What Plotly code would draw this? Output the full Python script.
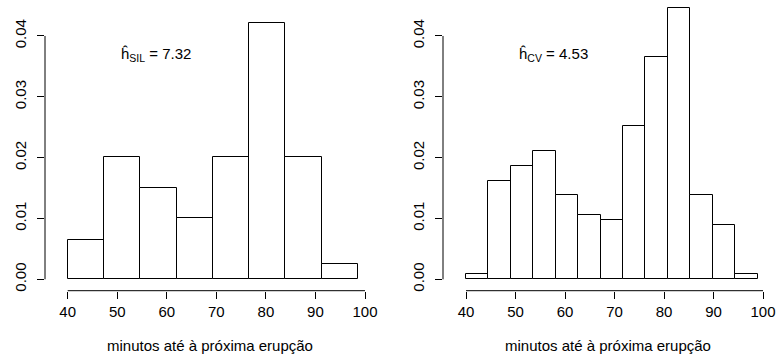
import plotly.graph_objects as go

# Faithful geyser waiting times, density histograms for two bin widths
bins_start = 40.0

h_sil = 7.32
dens_sil = [0.00653, 0.02009, 0.01507, 0.01004, 0.02009, 0.04219, 0.02009, 0.00251]

h_cv = 4.53
dens_cv = [0.00081, 0.01623, 0.01867, 0.02110, 0.01380, 0.01055, 0.00974,
           0.02516, 0.03652, 0.04464, 0.01380, 0.00893, 0.00081]

x_ticks = [40, 50, 60, 70, 80, 90, 100]
y_ticks = [0.00, 0.01, 0.02, 0.03, 0.04]
x_title = "minutos até à próxima erupção"

W, H = 776, 356
FAMILY = "Liberation Sans, Arial, Helvetica, sans-serif"
TICK_FONT = dict(family=FAMILY, size=15, color="black")
TEXT_FONT = dict(family=FAMILY, size=15, color="black")

fig = go.Figure()

# pixel layout of the two panels: (y-axis line px, px of x=40, px per unit)
panels = [
    dict(axline=45.0, x40=67.7, ppu=4.955, right=375.0),
    dict(axline=443.0, x40=466.0, ppu=4.95, right=773.0),
]
y0_px, yaxis_px, ppu_y = 279.3, 290.7, 6083.0

series = [(h_sil, dens_sil, "SIL"), (h_cv, dens_cv, "CV")]

for i, ((bw, dens, tag), p) in enumerate(zip(series, panels)):
    xa = "x" if i == 0 else "x2"
    ya = "y" if i == 0 else "y2"
    centers = [bins_start + bw * (k + 0.5) for k in range(len(dens))]
    fig.add_trace(go.Bar(
        x=centers, y=dens, width=[bw] * len(dens),
        marker=dict(color="white", line=dict(color="black", width=1)),
        xaxis=xa, yaxis=ya, showlegend=False, hoverinfo="skip",
    ))

    xmin = 40 - (p["x40"] - p["axline"]) / p["ppu"]
    xmax = 40 + (p["right"] - p["x40"]) / p["ppu"]
    ymin = -(yaxis_px - y0_px) / ppu_y
    ymax = y0_px / ppu_y

    xkey = "xaxis" if i == 0 else "xaxis2"
    ykey = "yaxis" if i == 0 else "yaxis2"
    fig.update_layout(**{
        xkey: dict(
            domain=[p["axline"] / W, p["right"] / W], range=[xmin, xmax],
            anchor=ya, showgrid=False, zeroline=False, showline=False,
            ticks="outside", ticklen=7, tickwidth=1, tickcolor="black",
            tickvals=x_ticks, ticklabelstandoff=0, tickfont=TICK_FONT,
            ticklabeloverflow="allow",
            title=dict(text=x_title, font=TEXT_FONT, standoff=21),
            automargin=False,
        ),
        ykey: dict(
            domain=[1 - yaxis_px / H, 1.0], range=[ymin, ymax],
            anchor=xa, showgrid=False, zeroline=False, showline=False,
            ticks="outside", ticklen=7, tickwidth=1, tickcolor="black",
            tickvals=y_ticks, tickformat=".2f", tickangle=-90,
            ticklabelstandoff=5, tickfont=TICK_FONT, automargin=False,
            ticklabeloverflow="allow",
        ),
    })

    # R-style detached axis lines spanning only the tick range
    fig.add_shape(type="line", xref=xa, yref=f"{ya} domain",
                  x0=x_ticks[0], x1=x_ticks[-1], y0=0, y1=0,
                  line=dict(color="black", width=1))
    fig.add_shape(type="line", xref=f"{xa} domain", yref=ya,
                  x0=0, x1=0, y0=y_ticks[0], y1=y_ticks[-1],
                  line=dict(color="black", width=1))

    fig.add_annotation(
        x=50.4, y=0.0370, xref=xa, yref=ya, xanchor="left", yanchor="middle",
        text=f"ĥ<sub>{tag}</sub> = {bw:.2f}", showarrow=False, font=TEXT_FONT,
    )

fig.update_layout(
    width=W, height=H, margin=dict(l=0, r=0, t=0, b=0),
    paper_bgcolor="white", plot_bgcolor="white", bargap=0,
    font=TICK_FONT,
)

fig.write_html("out.html")
